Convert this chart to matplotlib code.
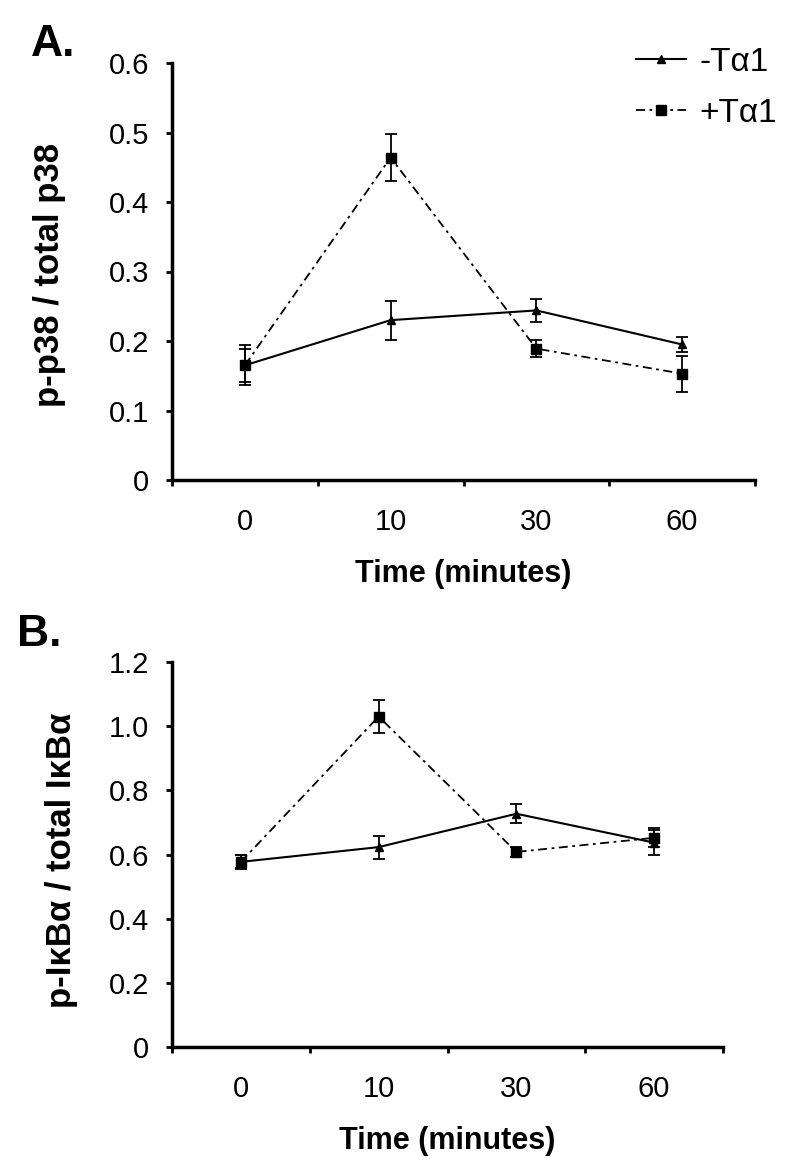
import numpy as np
import matplotlib
matplotlib.use('Agg')
import matplotlib.pyplot as plt
from matplotlib.lines import Line2D

plt.rcParams['font.family'] = ['Liberation Sans', 'DejaVu Sans']

times = ['0', '10', '30', '60']

# panel A : p-p38 / total p38
a_minus = [0.165, 0.230, 0.244, 0.195]
a_minus_err = [0.024, 0.028, 0.017, 0.011]
a_plus = [0.165, 0.464, 0.189, 0.153]
a_plus_err = [0.029, 0.034, 0.012, 0.026]

# panel B : p-IkBa / total IkBa
b_minus = [0.577, 0.623, 0.727, 0.637]
b_minus_err = [0.020, 0.036, 0.030, 0.040]
b_plus = [0.577, 1.030, 0.608, 0.652]
b_plus_err = [0.022, 0.052, 0.015, 0.030]

W, H = 800, 1165
fig = plt.figure(figsize=(W / 100, H / 100), dpi=100)

dashdot = (0, (5, 2.5, 1.5, 2.5))


def box(l, t, r, b):
    return [l / W, 1 - b / H, (r - l) / W, (b - t) / H]


def panel(ax, minus, minus_err, plus, plus_err, ymax, ystep):
    x = np.arange(len(times))
    ax.errorbar(x, minus, yerr=minus_err, color='black', lw=1.5, marker='^', ms=6,
                capsize=4, elinewidth=1.3, capthick=1.3, zorder=3)
    ax.errorbar(x, plus, yerr=plus_err, color='black', lw=1.3, ls=dashdot, marker='s', ms=7,
                capsize=4, elinewidth=1.3, capthick=1.3, zorder=3)
    ax.set_xlim(-0.5, len(times) - 0.5)
    ax.set_ylim(0, ymax)
    ax.spines['top'].set_visible(False)
    ax.spines['right'].set_visible(False)
    ax.spines['left'].set_linewidth(2.5)
    ax.spines['bottom'].set_linewidth(2.5)
    ax.set_xticks(np.arange(-0.5, len(times), 1.0))
    ax.set_xticklabels([])
    ax.set_xticks(x, minor=True)
    ax.set_xticklabels(times, minor=True, fontsize=21)
    ax.tick_params(axis='x', which='major', direction='out', length=4, width=2)
    ax.tick_params(axis='x', which='minor', length=0, pad=20)
    yt = np.arange(0, ymax + 1e-9, ystep)
    ax.set_yticks(yt)
    ax.set_yticklabels(['0'] + ['%.1f' % v for v in yt[1:]], fontsize=21)
    ax.tick_params(axis='y', direction='out', length=4, width=2, pad=12.5)
    ax.set_xlabel('Time (minutes)', fontsize=22, fontweight='bold', labelpad=17)


axA = fig.add_axes(box(172, 63, 755, 480))
panel(axA, a_minus, a_minus_err, a_plus, a_plus_err, 0.6, 0.1)
axB = fig.add_axes(box(172, 662, 723, 1047))
panel(axB, b_minus, b_minus_err, b_plus, b_plus_err, 1.2, 0.2)

fig.text(50 / W, 1 - 275 / H, 'p-p38 / total p38', rotation=90, ha='center', va='center',
         fontsize=25, fontweight='bold')
fig.text(62 / W, 1 - 860 / H, 'p-I\u03baB\u03b1 / total I\u03baB\u03b1', rotation=90, ha='center',
         va='center', fontsize=25, fontweight='bold')

fig.text(53 / W, 1 - 44 / H, 'A.', ha='center', va='center', fontsize=32, fontweight='bold')
fig.text(39 / W, 1 - 635 / H, 'B.', ha='center', va='center', fontsize=32, fontweight='bold')

handles = [Line2D([], [], color='black', lw=1.5, marker='^', ms=6),
           Line2D([], [], color='black', lw=1.3, ls=dashdot, marker='s', ms=7)]
fig.legend(handles, ['-T\u03b11', '+T\u03b11'], loc='upper left',
           bbox_to_anchor=(636 / W, 1 - 47 / H), frameon=False, fontsize=24,
           handlelength=1.5, handletextpad=0.4, labelspacing=0.6, borderpad=0,
           borderaxespad=0)

fig.savefig('out.png', dpi=100)
